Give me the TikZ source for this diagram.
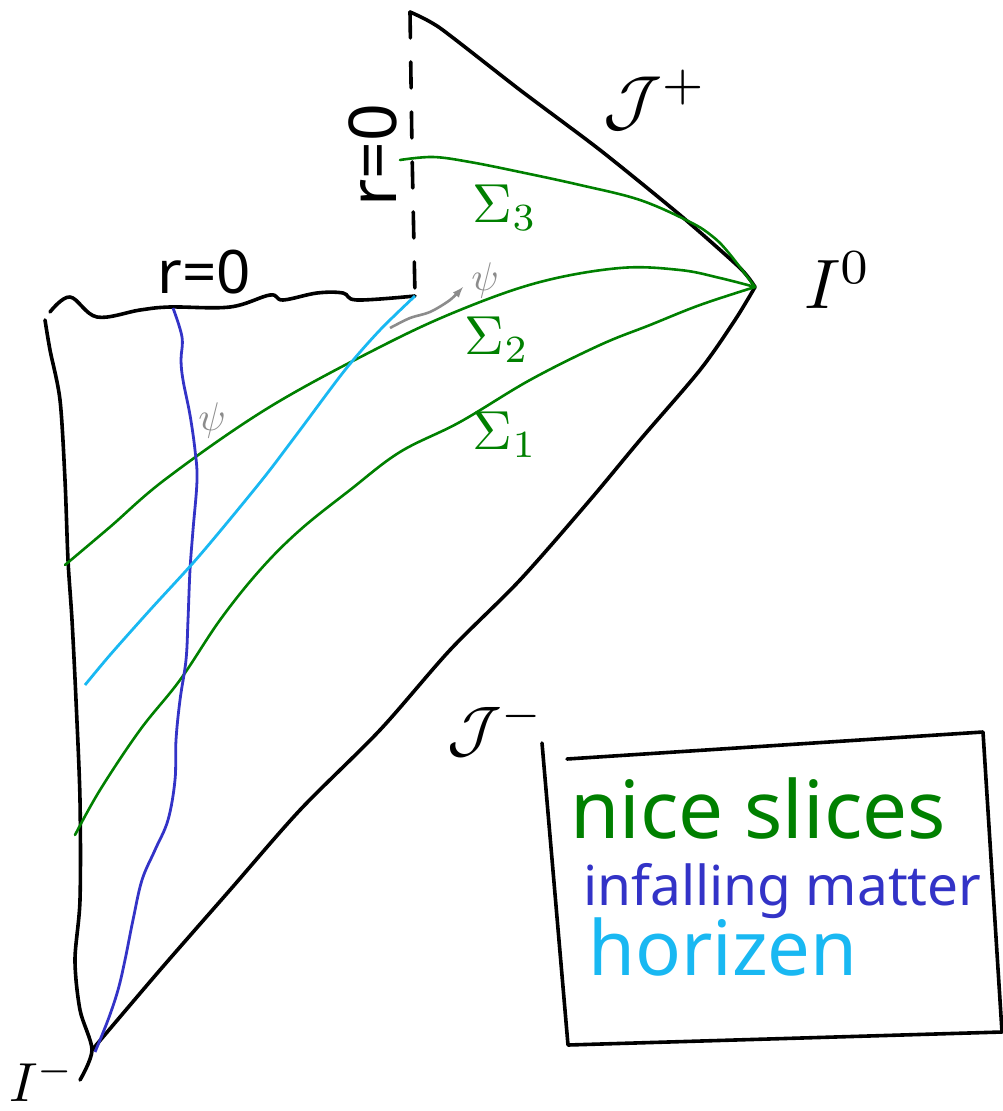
\documentclass[tikz,border=0pt]{standalone}
\usepackage{amsmath, amssymb}
\usepackage{graphicx}
\usepackage{fontspec}
\setmainfont{Noto Sans}
\usetikzlibrary{calc, arrows}
\tikzset{>=latex}
\definecolor{slicegreen}{rgb}{0, 0.5, 0}
\definecolor{matterblue}{rgb}{0.2, 0.2, 0.78}
\definecolor{horizonblue}{rgb}{0.1, 0.72, 0.95}
\definecolor{fieldgray}{rgb}{0.55, 0.55, 0.55}
\tikzset{edge/.style={line width=3.6pt, line cap=round, line join=round}}
\tikzset{slice/.style={slicegreen, line width=2.6pt, line cap=round}}
\tikzset{label/.style={inner sep=0pt}}
\newcommand{\sizedtext}[1]{\fontsize{#1}{#1}\selectfont}
\newcommand{\mathlabel}[2]{\scalebox{#1}{$#2$}}

\begin{document}
\begin{tikzpicture}[x=1pt, y=-1pt]
  \useasboundingbox (0,0) rectangle (1003,1111);
  % corners of the diagram
  \coordinate (top) at (410,12);
  \coordinate (izero) at (755,287);
  \coordinate (corner) at (415,296);
  \coordinate (sing) at (50,312);
  \coordinate (iminus) at (92,1050);
  \coordinate (tail) at (80,1080);
  % boundary
  \draw[edge, dash pattern=on 26pt off 24pt] (top) -- (412,150) -- (corner); %
  \draw[edge] plot[smooth, tension=0.4] coordinates {(top) (440,28) (520,90)
    (600,150) (680,215) (740,268) (izero)}; %
  \draw[edge] plot[smooth, tension=0.5] coordinates {(izero) (735,320) (700,370)
    (640,440) (590,500) (520,580) (450,650) (380,730) (300,810) (230,890)
    (160,970) (iminus)}; %
  \draw[edge] plot[smooth, tension=0.6] coordinates {(sing) (70,297) (97,317)
    (140,310) (170,307) (230,307) (270,295) (283,300) (317,293) (343,293)
    (357,300) (corner)}; %
  \draw[edge] plot[smooth, tension=0.5] coordinates {(45,320) (50,350) (60,400)
    (65,480) (68,560) (72,620) (76,700) (80,800) (80,900) (75,960) (80,1010)
    (iminus) (tail)}; %
  % slices
  \draw[slice] plot[smooth, tension=0.6] coordinates {(400,160) (433,157)
    (470,162) (520,172) (580,185) (640,200) (690,222) (712,236) (728,252)
    (izero)}; %
  \draw[slice] plot[smooth, tension=0.6] coordinates {(65,565) (110,527)
    (167,478) (268,408) (380,347) (460,310) (540,282) (620,268) (680,270)
    (720,278) (izero)}; %
  \draw[slice] plot[smooth, tension=0.6] coordinates {(75,835) (100,790)
    (140,730) (180,680) (220,620) (260,570) (300,530) (350,490) (400,452)
    (460,422) (530,380) (600,345) (650,325) (700,305) (izero)}; %
  % matter and horizon
  \draw[matterblue, line width=2.8pt] plot[smooth, tension=0.6] coordinates
    {(173,308) (182,337) (181,360) (183,380) (190,415) (195,450) (197,480)
    (193,530) (190,570) (188,620) (186,660) (180,700) (176,740) (175,780)
    (168,820) (155,850) (142,880) (133,920) (125,960) (118,990) (108,1020)
    (95,1052)}; %
  \draw[horizonblue, line width=2.8pt] plot[smooth, tension=0.5] coordinates
    {(corner) (380,330) (345,370) (300,430) (262,480) (200,555) (150,610)
    (110,655) (85,685)}; %
  \draw[fieldgray, line width=2.6pt, ->] plot[smooth] coordinates {(390,328)
    (410,318) (430,312) (450,300) (463,287)}; %
  % labels
  \node[label] (rzero) at (204,272) {\sizedtext{60}r=0};
  \node[label, rotate=90] (rzerov) at (373,155) {\sizedtext{66}r=0};
  \node[label] (scriplus) at (655,100) {\mathlabel{6.8}{\mathcal{J}^{+}}};
  \node[label] (scriminus) at (496,728) {\mathlabel{6.3}{\mathcal{J}^{-}}};
  \node[label] (izerolab) at (838,280) {\mathlabel{7}{I^{0}}};
  \node[label] (iminuslab) at (42,1080) {\mathlabel{5.5}{I^{-}}};
  \node[label, slicegreen] (sthree) at (505,208) {\mathlabel{5.5}{\Sigma_{3}}};
  \node[label, slicegreen] (stwo) at (497,340) {\mathlabel{5.5}{\Sigma_{2}}};
  \node[label, slicegreen] (sone) at (505,435) {\mathlabel{5.5}{\Sigma_{1}}};
  \node[label, fieldgray] (psione) at (485,280) {\mathlabel{4}{\psi}};
  \node[label, fieldgray] (psitwo) at (212,420) {\mathlabel{4}{\psi}};
  % legend
  \coordinate (boxa) at (542,743);
  \coordinate (boxb) at (568,1045);
  \coordinate (boxc) at (1002,1032);
  \coordinate (boxd) at (983,732);
  \coordinate (boxe) at (567,759);
  \draw[edge] (boxa) -- (boxb) -- (boxc) -- (boxd) -- (boxe); %
  \node[label, anchor=base west, slicegreen] (slices) at (570,838)
    {\sizedtext{80}nice slices};
  \node[label, anchor=base west, matterblue] (matter) at (583,905)
    {\sizedtext{55}infalling matter};
  \node[label, anchor=base west, horizonblue] (horizen) at (588,975)
    {\sizedtext{76}horizen};
\end{tikzpicture}
\end{document}
